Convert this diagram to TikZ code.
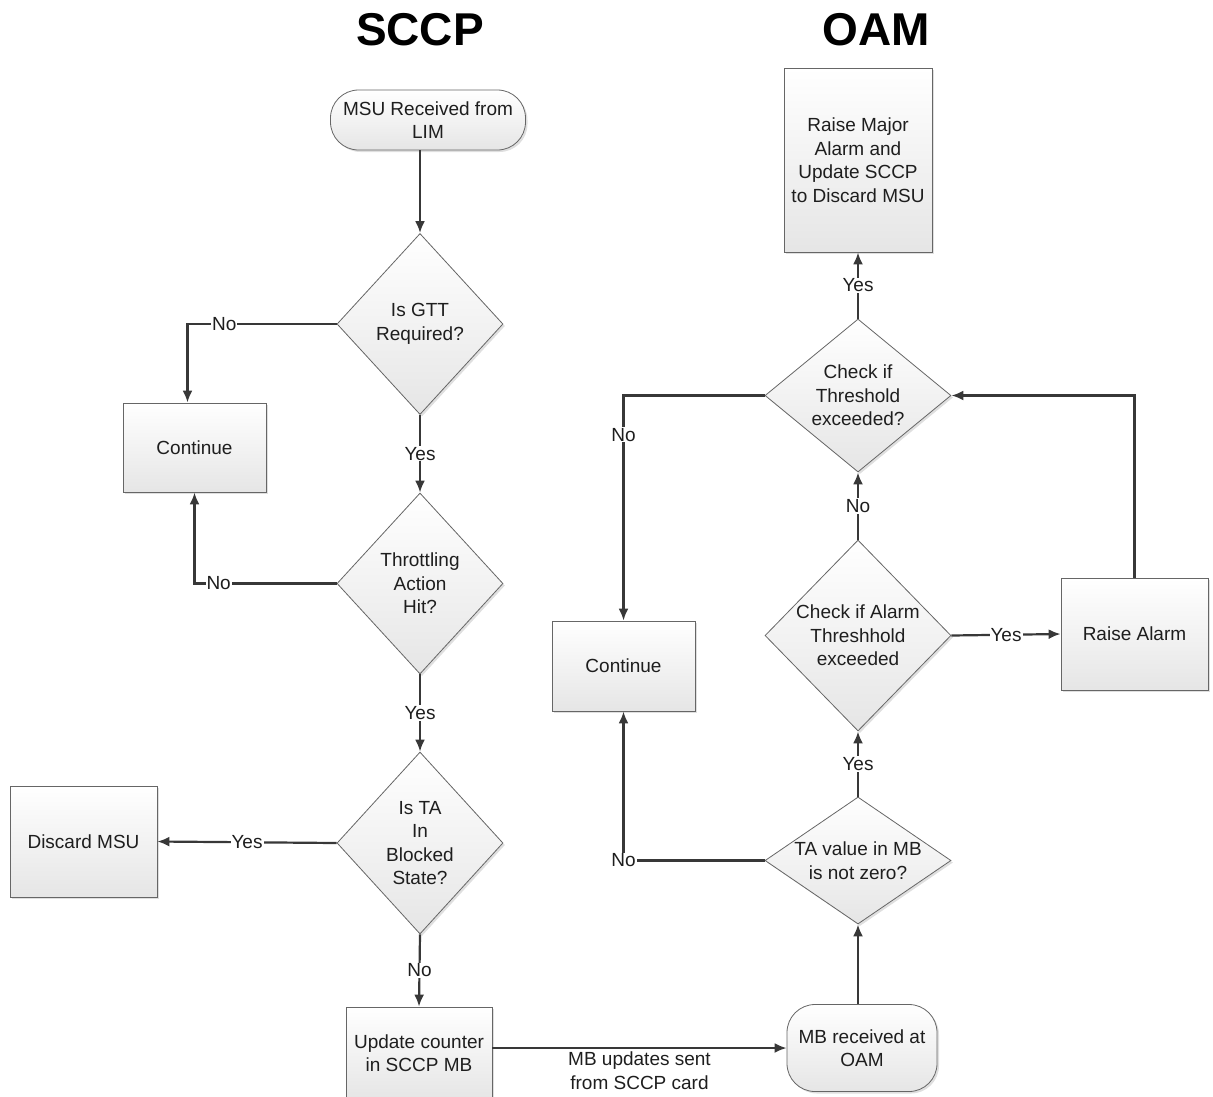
\documentclass[tikz,border=0pt]{standalone}
\usepackage{fontspec}
\setmainfont{Liberation Sans}
\usetikzlibrary{shapes.geometric,arrows.meta,shadows}
\definecolor{ln}{HTML}{383838}
\definecolor{txt}{HTML}{1E1E1E}
\begin{document}
\begin{tikzpicture}[x=1pt,y=-1pt,
 base/.style={draw=black!60, line width=0.8pt, top color=white, bottom color=black!10,
   font=\fontsize{19}{23.5}\selectfont, text=txt, align=center, inner sep=0pt,
   drop shadow={shadow xshift=2pt,shadow yshift=-2pt,opacity=0.25}},
 box/.style={base, rectangle},
 pill/.style={base, rectangle, rounded corners=28pt},
 dia/.style={base, diamond},
 dtxt/.style={align=center, font=\fontsize{19}{23.5}\selectfont, text=txt, inner sep=0pt},
 arr/.style={draw=ln, line width=2.2pt, -{Latex[length=12pt,width=10pt]}},
 lab/.style={fill=white, inner sep=1pt, font=\fontsize{19}{23}\selectfont, text=txt},
 ttl/.style={font=\bfseries\fontsize{46}{50}\selectfont, text=black}
]
\path[use as bounding box] (0,0) rectangle (1213,1096);

\node[ttl] (t1) at (420,30) {SCCP};
\node[ttl] (t2) at (876,30) {OAM};

% SCCP column
\node[pill, minimum width=195pt, minimum height=60pt] (st) at (428,120) {MSU Received from\\LIM};
\node[dia, minimum width=166pt, minimum height=181pt, label={[dtxt]center:Is GTT\\Required?}] (d1) at (420,324) {};
\node[box, minimum width=143pt, minimum height=89pt] (c1) at (194.5,447.5) {Continue};
\node[dia, minimum width=166pt, minimum height=181pt, label={[dtxt]center:Throttling\\Action\\Hit?}] (d2) at (420,583.5) {};
\node[dia, minimum width=166pt, minimum height=182pt, label={[dtxt]center:Is TA\\In\\Blocked\\State?}] (d3) at (420,843) {};
\node[box, minimum width=147pt, minimum height=111pt] (dm) at (83.5,841.5) {Discard MSU};
\node[box, minimum width=146pt, minimum height=92pt] (upd) at (419,1053) {Update counter\\in SCCP MB};

% OAM column
\node[pill, minimum width=150pt, minimum height=87pt] (mbr) at (862,1048) {MB received at\\OAM};
\node[dia, minimum width=186pt, minimum height=127pt, label={[dtxt]center:TA value in MB\\is not zero?}] (d4) at (858,860.5) {};
\node[box, minimum width=143pt, minimum height=90pt] (c2) at (623.5,666) {Continue};
\node[dia, minimum width=186pt, minimum height=191pt, label={[dtxt]center:Check if Alarm\\Threshhold\\exceeded}] (d5) at (858,635.5) {};
\node[box, minimum width=147pt, minimum height=112pt] (ra) at (1134.5,634) {Raise Alarm};
\node[dia, minimum width=186pt, minimum height=153pt, label={[dtxt]center:Check if\\Threshold\\exceeded?}] (d6) at (858,395.5) {};
\node[box, minimum width=148pt, minimum height=184pt] (rm) at (858,160) {Raise Major\\Alarm and\\Update SCCP\\to Discard MSU};

% connectors SCCP
\draw[arr] (d1.north |- st.south) -- (d1.north);
\draw[arr] (d1.west) -| node[lab, pos=0.377]{No} ([xshift=-7pt]c1.north);
\draw[arr] (d1.south) -- node[lab]{Yes} (d2.north);
\draw[arr] (d2.west) -| node[lab, pos=0.415]{No} (c1.south);
\draw[arr] (d2.south) -- node[lab]{Yes} (d3.north);
\draw[arr] (d3.west) -- node[lab]{Yes} (dm.east);
\draw[arr] (d3.south) -- node[lab]{No} (upd.north);
\draw[arr] (upd.east |- mbr.west) -- node[below=2pt, align=center, inner sep=1pt, font=\fontsize{19}{23.5}\selectfont, text=txt]{MB updates sent\\from SCCP card} (mbr.west);

% connectors OAM
\draw[arr] (mbr.north -| d4.south) -- (d4.south);
\draw[arr] (d4.west) -| node[lab, pos=0.5]{No} (c2.south);
\draw[arr] (d4.north) -- node[lab]{Yes} (d5.south);
\draw[arr] (d5.east) -- node[lab]{Yes} (ra.west);
\draw[arr] (d5.north) -- node[lab]{No} (d6.south);
\draw[arr] (ra.north) |- (d6.east);
\draw[arr] (d6.west) -| node[lab, pos=0.587]{No} (c2.north);
\draw[arr] (d6.north) -- node[lab]{Yes} (rm.south);
\end{tikzpicture}
\end{document}
